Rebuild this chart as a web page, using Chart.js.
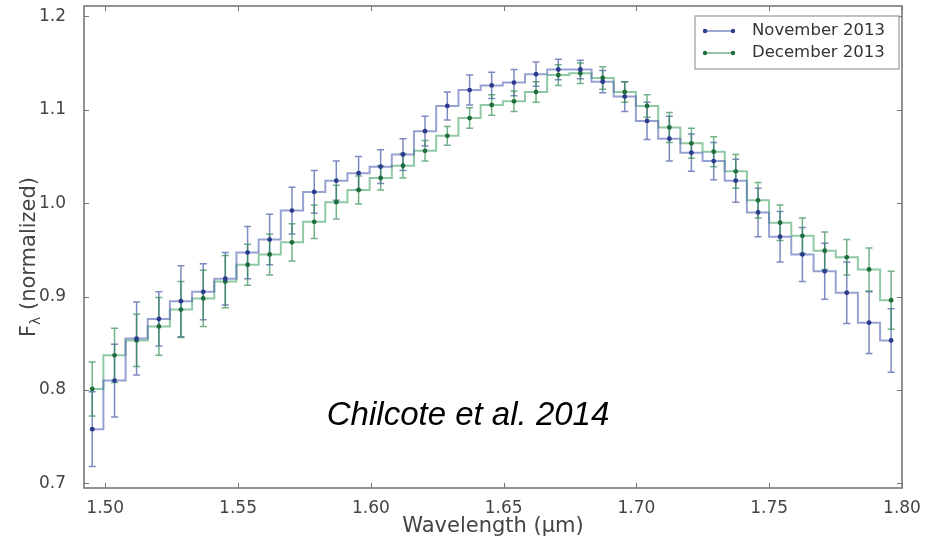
<!DOCTYPE html>
<html>
<head>
<meta charset="utf-8">
<script src="https://cdn.jsdelivr.net/npm/chart.js@4.4.0/dist/chart.umd.min.js"></script>
<style>
  html, body { margin: 0; padding: 0; background: #fff; }
  #wrap { width: 932px; height: 539px; }
</style>
</head>
<body>
<div id="wrap"><canvas id="spectrum"></canvas></div>
<script>
// wavelength of each spectral channel (micron)
const wavelength = [1.4951, 1.5035, 1.5118, 1.5202, 1.5285, 1.5369, 1.5452, 1.5536, 1.5619, 1.5703,
                    1.5787, 1.5870, 1.5954, 1.6037, 1.6121, 1.6204, 1.6288, 1.6372, 1.6455, 1.6539,
                    1.6622, 1.6706, 1.6789, 1.6873, 1.6956, 1.7040, 1.7124, 1.7207, 1.7291, 1.7374,
                    1.7458, 1.7541, 1.7625, 1.7709, 1.7792, 1.7876, 1.7959];

const novFlux = [0.758, 0.810, 0.855, 0.876, 0.895, 0.905, 0.919, 0.947, 0.961, 0.992,
                 1.012, 1.024, 1.032, 1.039, 1.052, 1.077, 1.104, 1.121, 1.126, 1.129,
                 1.138, 1.143, 1.143, 1.130, 1.114, 1.088, 1.069, 1.054, 1.045, 1.024,
                 0.990, 0.964, 0.945, 0.927, 0.904, 0.872, 0.853];
const novErr = [0.040, 0.039, 0.039, 0.029, 0.038, 0.030, 0.028, 0.028, 0.027, 0.025,
                0.023, 0.021, 0.018, 0.018, 0.017, 0.016, 0.015, 0.016, 0.014, 0.014,
                0.013, 0.011, 0.010, 0.012, 0.016, 0.020, 0.024, 0.020, 0.020, 0.023,
                0.026, 0.027, 0.029, 0.030, 0.033, 0.033, 0.034];

const decFlux = [0.801, 0.837, 0.853, 0.868, 0.886, 0.898, 0.916, 0.934, 0.945, 0.958,
                 0.980, 1.001, 1.014, 1.027, 1.040, 1.056, 1.072, 1.091, 1.105, 1.109,
                 1.119, 1.137, 1.139, 1.134, 1.119, 1.104, 1.081, 1.064, 1.055, 1.034,
                 1.003, 0.979, 0.965, 0.949, 0.942, 0.929, 0.896];
const decErr = [0.029, 0.029, 0.028, 0.031, 0.030, 0.030, 0.028, 0.022, 0.022, 0.020,
                0.018, 0.018, 0.015, 0.013, 0.013, 0.011, 0.010, 0.011, 0.011, 0.011,
                0.011, 0.011, 0.011, 0.012, 0.011, 0.012, 0.016, 0.016, 0.016, 0.018,
                0.019, 0.019, 0.019, 0.020, 0.019, 0.023, 0.031];

const xTicks = [1.50, 1.55, 1.60, 1.65, 1.70, 1.75, 1.80];
const yTicks = [0.7, 0.8, 0.9, 1.0, 1.1, 1.2];

const axisGray = '#777';
const textGray = '#444';

Chart.defaults.font.family = "'DejaVu Sans', sans-serif";
Chart.defaults.color = textGray;

const errorBars = {
    id: 'errorBars',
    beforeDatasetsDraw(chart) {
        const { ctx, scales: { x, y } } = chart;
        chart.data.datasets.forEach((ds, i) => {
            if (!chart.isDatasetVisible(i)) return;
            ctx.save();
            ctx.strokeStyle = ds.errColor;
            ctx.lineWidth = 1.5;
            ds.data.forEach((p, j) => {
                const px = x.getPixelForValue(p.x);
                const top = y.getPixelForValue(p.y + ds.errors[j]);
                const bot = y.getPixelForValue(p.y - ds.errors[j]);
                ctx.beginPath();
                ctx.moveTo(px, top); ctx.lineTo(px, bot);
                ctx.moveTo(px - 3.5, top); ctx.lineTo(px + 3.5, top);
                ctx.moveTo(px - 3.5, bot); ctx.lineTo(px + 3.5, bot);
                ctx.stroke();
            });
            ctx.restore();
        });
    }
};

// matplotlib style box: frame plus inward ticks on every side
const frameBox = {
    id: 'frameBox',
    afterDraw(chart) {
        const { ctx, chartArea: a, scales: { x, y } } = chart;
        ctx.save();
        ctx.strokeStyle = axisGray;
        ctx.lineWidth = 1;
        ctx.beginPath();
        x.ticks.forEach(t => {
            const px = Math.round(x.getPixelForValue(t.value)) + 0.5;
            ctx.moveTo(px, a.bottom); ctx.lineTo(px, a.bottom - 5);
            ctx.moveTo(px, a.top); ctx.lineTo(px, a.top + 5);
        });
        y.ticks.forEach(t => {
            const py = Math.round(y.getPixelForValue(t.value)) + 0.5;
            ctx.moveTo(a.left, py); ctx.lineTo(a.left + 5, py);
            ctx.moveTo(a.right, py); ctx.lineTo(a.right - 5, py);
        });
        ctx.stroke();
        ctx.lineWidth = 1.6;
        ctx.strokeRect(a.left, a.top, a.right - a.left, a.bottom - a.top);

        // y title with subscript lambda
        ctx.fillStyle = textGray;
        ctx.translate(30, (a.top + a.bottom) / 2 + 10);
        ctx.rotate(-Math.PI / 2);
        ctx.textBaseline = 'middle';
        const big = "21px 'DejaVu Sans'";
        const small = "14px 'DejaVu Sans'";
        ctx.font = big;
        const w1 = ctx.measureText('F').width;
        ctx.font = small;
        const w2 = ctx.measureText('\u03bb').width;
        ctx.font = big;
        const w3 = ctx.measureText(' (normalized)').width;
        let cx = -(w1 + w2 + w3) / 2;
        ctx.textAlign = 'left';
        ctx.fillText('F', cx, 0);
        cx += w1;
        ctx.font = small;
        ctx.fillText('\u03bb', cx, 6);
        cx += w2;
        ctx.font = big;
        ctx.fillText(' (normalized)', cx, 0);
        ctx.restore();

        // citation text placed in data coordinates
        ctx.save();
        ctx.fillStyle = '#000';
        ctx.font = "italic 33px 'Liberation Sans', Arial, sans-serif";
        ctx.textAlign = 'center';
        ctx.textBaseline = 'middle';
        ctx.fillText('Chilcote et al. 2014', x.getPixelForValue(1.6366), y.getPixelForValue(0.772));
        ctx.restore();

        // legend box in upper right
        ctx.save();
        const bx = 695, by = 16, bw = 204, bh = 53;
        ctx.fillStyle = '#fff';
        ctx.fillRect(bx, by, bw, bh);
        ctx.strokeStyle = '#999';
        ctx.lineWidth = 1.2;
        ctx.strokeRect(bx, by, bw, bh);
        ctx.font = "16.5px 'DejaVu Sans'";
        ctx.textBaseline = 'middle';
        chart.data.datasets.forEach((ds, i) => {
            const ly = by + 15 + i * 22;
            ctx.strokeStyle = ds.errColor;
            ctx.lineWidth = 1.5;
            ctx.beginPath();
            ctx.moveTo(bx + 10, ly); ctx.lineTo(bx + 38, ly);
            ctx.stroke();
            ctx.fillStyle = ds.pointBackgroundColor;
            [bx + 10, bx + 38].forEach(px => {
                ctx.beginPath();
                ctx.arc(px, ly, 2.2, 0, Math.PI * 2);
                ctx.fill();
            });
            ctx.fillStyle = '#333';
            ctx.fillText(ds.label, bx + 57, ly);
        });
        ctx.restore();
    }
};

const makePoints = (flux) => wavelength.map((w, i) => ({ x: w, y: flux[i] }));

// keep tick-label overflow from pushing the plot box inwards
const noEdgePadding = (scale) => {
    scale.paddingTop = 0;
    scale.paddingBottom = 0;
    scale.paddingLeft = 0;
    scale.paddingRight = 0;
};

new Chart(document.getElementById('spectrum'), {
    type: 'line',
    data: {
        datasets: [
            {
                label: 'November 2013',
                data: makePoints(novFlux),
                errors: novErr,
                errColor: 'rgba(55,75,160,0.65)',
                stepped: 'middle',
                borderColor: 'rgba(80,100,180,0.6)',
                borderWidth: 2,
                pointRadius: 2.4,
                pointBorderWidth: 0,
                pointBackgroundColor: '#2b3b8c',
                fill: false
            },
            {
                label: 'December 2013',
                data: makePoints(decFlux),
                errors: decErr,
                errColor: 'rgba(40,135,75,0.65)',
                stepped: 'middle',
                borderColor: 'rgba(70,165,105,0.6)',
                borderWidth: 2,
                pointRadius: 2.4,
                pointBorderWidth: 0,
                pointBackgroundColor: '#1f6e3c',
                fill: false
            }
        ]
    },
    options: {
        responsive: true,
        maintainAspectRatio: false,
        animation: false,
        layout: { padding: { top: 6, right: 30, left: 0, bottom: 0 } },
        plugins: {
            legend: { display: false },
            tooltip: { enabled: false }
        },
        scales: {
            x: {
                type: 'linear',
                min: 1.492,
                max: 1.80,
                afterBuildTicks: (scale) => { scale.ticks = xTicks.map(v => ({ value: v })); },
                afterFit: (scale) => { scale.height = 51; noEdgePadding(scale); },
                grid: { display: false },
                border: { display: false },
                ticks: {
                    padding: 2,
                    font: { size: 17 },
                    color: textGray,
                    maxRotation: 0,
                    callback: (v) => Number(v).toFixed(2)
                },
                title: {
                    display: true,
                    text: 'Wavelength (\u03bcm)',
                    font: { size: 21 },
                    color: textGray,
                    padding: { top: 9, bottom: 0 }
                }
            },
            y: {
                type: 'linear',
                min: 0.695,
                max: 1.211,
                afterBuildTicks: (scale) => { scale.ticks = yTicks.map(v => ({ value: v })); },
                afterFit: (scale) => { scale.width = 84; noEdgePadding(scale); },
                grid: { display: false },
                border: { display: false },
                ticks: {
                    padding: 10,
                    font: { size: 17 },
                    color: textGray,
                    callback: (v) => Number(v).toFixed(1)
                }
            }
        }
    },
    plugins: [errorBars, frameBox]
});
</script>
</body>
</html>
